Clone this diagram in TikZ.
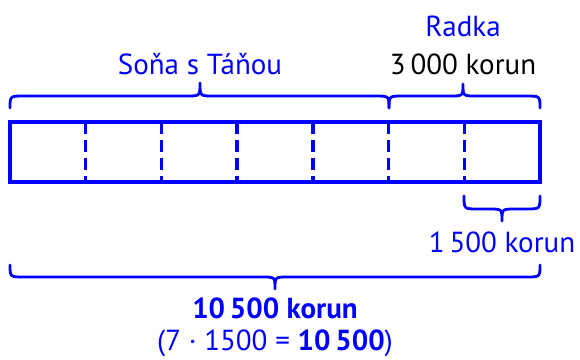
\documentclass[tikz,border=0pt]{standalone}
\usepackage{fontspec}
\setmainfont{PT Sans}
\definecolor{barblue}{RGB}{0,0,255}
\tikzset{
  bar/.style={draw=barblue, line width=3.5pt, line join=miter},
  divider/.style={draw=barblue, line width=3.5pt, dash pattern=on 12pt off 6pt},
  bracepath/.style={draw=barblue, line width=2.8pt, line cap=round, line join=round},
  lbl/.style={font=\fontsize{29}{32}\selectfont, inner sep=0pt, anchor=base},
}
% curly brace: ends at (#1,#3) and (#2,#3), straight part at #4, tip (#5,#6)
\newcommand\drawbrace[6]{%
  \draw[bracepath] (#1,#3) .. controls (#1,#4) .. (#1+14,#4)
    -- (#5-13,#4) .. controls (#5,#4) .. (#5,#6)
    .. controls (#5,#4) .. (#5+13,#4)
    -- (#2-14,#4) .. controls (#2,#4) .. (#2,#3);}
\begin{document}
\begin{tikzpicture}[x=1pt,y=-1pt]
\useasboundingbox (0,0) rectangle (580,359);
% the strip of seven parts
\coordinate (tl) at (10,122);
\coordinate (br) at (540,182);
\foreach \i in {1,...,6} {
  \draw[divider] ({10+530*\i/7},122) -- ({10+530*\i/7},182);
}
\draw[bar] (tl) rectangle (br);
% braces
\drawbrace{10}{389}{108}{96}{200}{83}
\drawbrace{389}{540}{108}{96}{463}{84}
\drawbrace{464}{540}{196}{209}{502}{221}
\drawbrace{10}{540}{265}{277}{275}{289}
% labels
\node[lbl, text=barblue] (sona) at (200,74) {Soňa s Táňou};
\node[lbl, text=barblue] (radka) at (463,36) {Radka};
\node[lbl] (radkasum) at (463,74) {3\,000 korun};
\node[lbl, text=barblue] (part) at (502,252) {1\,500 korun};
\node[lbl, text=barblue, font=\fontsize{29}{32}\selectfont\bfseries] (total) at (275,318) {10\,500 korun};
\node[lbl, text=barblue] (calc) at (275,350) {(7 · 1500 = \textbf{10\,500})};
\end{tikzpicture}
\end{document}
